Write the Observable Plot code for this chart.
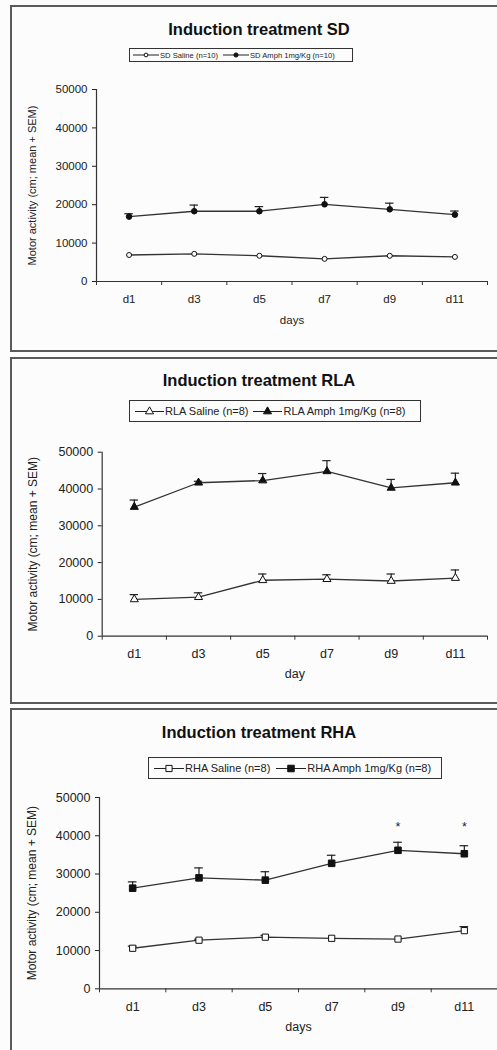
<!DOCTYPE html>
<html>
<head>
<meta charset="utf-8">
<script src="https://cdn.jsdelivr.net/npm/d3@7"></script>
<script src="https://cdn.jsdelivr.net/npm/@observablehq/plot@0.6"></script>
<style>
  html, body { margin: 0; padding: 0; background: #fcfcfc; }
  body { width: 497px; height: 1050px; overflow: hidden; position: relative; font-family: "Liberation Sans", Arial, sans-serif; color: #111; }
  .panel { position: absolute; left: 10px; width: 600px; border: 2px solid #5a5a5a; box-sizing: border-box; }
  .title { position: absolute; left: 0; width: 518px; text-align: center; font-weight: bold; font-size: 16.5px; line-height: 20px; color: #111; white-space: nowrap; }
  .legend { position: absolute; border: 1px solid #333; box-sizing: border-box; display: flex; align-items: center; white-space: nowrap; color: #222; }
  .legend .item { display: inline-flex; align-items: center; }
  .legend svg { display: block; }
  .chart { position: absolute; left: 0; }
  .chart svg { background: transparent; overflow: visible; }
</style>
</head>
<body>
<script>
const days = ["d1", "d3", "d5", "d7", "d9", "d11"];
const yTicks = [0, 10000, 20000, 30000, 40000, 50000];

const sdSalineMean = [6900, 7200, 6700, 5900, 6700, 6400];
const sdSalineSem  = [0, 0, 0, 0, 0, 0];
const sdAmphMean   = [16900, 18300, 18300, 20100, 18800, 17400];
const sdAmphSem    = [750, 1600, 1200, 1800, 1600, 950];

const rlaSalineMean = [10000, 10600, 15200, 15500, 15000, 15800];
const rlaSalineSem  = [1300, 1200, 1700, 1200, 1900, 2200];
const rlaAmphMean   = [35100, 41700, 42300, 44800, 40300, 41700];
const rlaAmphSem    = [1900, 400, 1900, 2900, 2300, 2600];

const rhaSalineMean = [10600, 12700, 13500, 13200, 13000, 15200];
const rhaSalineSem  = [550, 250, 450, 0, 0, 1050];
const rhaAmphMean   = [26300, 29000, 28400, 32800, 36200, 35300];
const rhaAmphSem    = [1650, 2600, 2200, 2100, 2100, 2100];

const rhaSigDays = ["d9", "d11"];
const rhaSigY    = [43200, 43200];

const titles = ["Induction treatment SD", "Induction treatment RLA", "Induction treatment RHA"];
const xLabels = ["days", "day", "days"];
const yLabel = "Motor activity (cm; mean + SEM)";
const legendLabels = [
  ["SD Saline (n=10)", "SD Amph 1mg/Kg (n=10)"],
  ["RLA Saline (n=8)", "RLA Amph 1mg/Kg (n=8)"],
  ["RHA Saline (n=8)", "RHA Amph 1mg/Kg (n=8)"]
];

const OPEN = "#fcfcfc", FILLED = "#111";

const panels = [
  {
    box: {top: 5, height: 347},
    titleTop: 19.3,
    legend: {left: 129, top: 48, width: 224, height: 14, fs: 7.6, line: 26, pad: 3, gap: 5, scale: 0.75},
    svgTop: 0, height: 340, mt: 89, mb: 59, ml: 96, mr: 10, fs: 11.5, labelX: 32,
    series: [
      {mean: sdSalineMean, sem: sdSalineSem, symbol: "circle", r: 2.5, fill: OPEN, label: legendLabels[0][0]},
      {mean: sdAmphMean, sem: sdAmphSem, symbol: "circle", r: 2.8, fill: FILLED, label: legendLabels[0][1]}
    ],
    xLabel: xLabels[0], title: titles[0]
  },
  {
    box: {top: 357, height: 347},
    titleTop: 370.3,
    legend: {left: 129, top: 400, width: 292, height: 22, fs: 11, line: 29, pad: 5, gap: 5, scale: 1},
    svgTop: 357, height: 340, mt: 94.7, mb: 61.3, ml: 101.7, mr: 10, fs: 12.5, labelX: 33,
    series: [
      {mean: rlaSalineMean, sem: rlaSalineSem, symbol: "triangle", r: 3, fill: OPEN, label: legendLabels[1][0]},
      {mean: rlaAmphMean, sem: rlaAmphSem, symbol: "triangle", r: 3, fill: FILLED, label: legendLabels[1][1]}
    ],
    xLabel: xLabels[1], title: titles[1]
  },
  {
    box: {top: 708, height: 400},
    titleTop: 722,
    legend: {left: 148, top: 757, width: 294, height: 22, fs: 11, line: 30, pad: 5, gap: 6, scale: 1},
    svgTop: 708, height: 342, mt: 89, mb: 61.7, ml: 99, mr: 0, fs: 12.5, labelX: 32,
    series: [
      {mean: rhaSalineMean, sem: rhaSalineSem, symbol: "square", r: 3.5, fill: OPEN, label: legendLabels[2][0]},
      {mean: rhaAmphMean, sem: rhaAmphSem, symbol: "square", r: 3.7, fill: FILLED, label: legendLabels[2][1]}
    ],
    xLabel: xLabels[2], title: titles[2],
    sig: rhaSigDays.map((d, i) => ({xi: days.indexOf(d) + 0.5, y: rhaSigY[i]}))
  }
];

function symbolType(name) {
  return {circle: d3.symbolCircle, triangle: d3.symbolTriangle, square: d3.symbolSquare}[name];
}

function legendItem(s, L) {
  const h = Math.ceil(L.fs * 1.3);
  const w = L.line;
  const rr = s.r * L.scale;
  const path = d3.symbol(symbolType(s.symbol), rr * rr * Math.PI)();
  return `<span class="item"><svg width="${w}" height="${h}"><line x1="0" x2="${w}" y1="${h / 2}" y2="${h / 2}" stroke="#222" stroke-width="1"/>` +
    `<path transform="translate(${w / 2},${h / 2})" d="${path}" fill="${s.fill}" stroke="#111" stroke-width="1"/></svg>` +
    `<span style="font-size:${L.fs}px;margin-left:1px">${s.label}</span></span>`;
}

for (const p of panels) {
  const box = document.createElement("div");
  box.className = "panel";
  box.style.top = p.box.top + "px";
  box.style.height = p.box.height + "px";
  document.body.appendChild(box);

  const rowsOf = s => s.mean.map((m, i) => ({day: days[i], xi: i + 0.5, mean: m, sem: s.sem[i], top: m + s.sem[i]}));

  const marks = [
    Plot.axisY({ticks: yTicks, tickSize: 4, tickPadding: 5, tickFormat: d3.format("d"), fontSize: p.fs, label: null, color: "#222"}),
    Plot.axisX({ticks: d3.range(0, days.length + 1), tickSize: 4, tickFormat: () => "", label: null, color: "#333"}),
    Plot.axisX({ticks: days.map((d, i) => i + 0.5), tickSize: 0, tickPadding: 13, tickFormat: v => days[Math.round(v - 0.5)], fontSize: p.fs, label: null, color: "#222"}),
    Plot.ruleY([0], {stroke: "#333", strokeWidth: 1.2}),
    Plot.ruleX([0], {stroke: "#333", strokeWidth: 1.2}),
    Plot.text([yLabel], {text: d => d, frameAnchor: "left", textAnchor: "middle", dx: -(p.ml - p.labelX), rotate: -90, fontSize: p.fs - 0.5, fill: "#222"}),
    Plot.text([p.xLabel], {text: d => d, frameAnchor: "bottom", dy: 42, fontSize: p.fs, fill: "#222"})
  ];

  for (const s of p.series) {
    const rows = rowsOf(s);
    const withErr = rows.filter(r => r.sem > 0);
    marks.push(
      Plot.ruleX(withErr, {x: "xi", y1: "mean", y2: "top", stroke: "#222", strokeWidth: 1.2}),
      Plot.ruleY(withErr, {y: "top", x1: d => d.xi - 0.065, x2: d => d.xi + 0.065, stroke: "#222", strokeWidth: 1.2}),
      Plot.line(rows, {x: "xi", y: "mean", stroke: "#333", strokeWidth: 1.3}),
      Plot.dot(rows, {x: "xi", y: "mean", symbol: s.symbol, r: s.r, fill: s.fill, stroke: "#111", strokeWidth: 1})
    );
  }
  if (p.sig) {
    marks.push(Plot.text(p.sig, {x: "xi", y: "y", text: () => "*", fontSize: p.fs, dy: 3, fill: "#222"}));
  }

  const chart = Plot.plot({
    width: 497,
    height: p.height,
    marginTop: p.mt, marginBottom: p.mb, marginLeft: p.ml, marginRight: p.mr,
    x: {type: "linear", domain: [0, days.length], axis: null},
    y: {domain: [0, 50000], axis: null},
    style: {fontFamily: "'Liberation Sans', Arial, sans-serif", background: "transparent", color: "#222"},
    marks
  });
  const holder = document.createElement("div");
  holder.className = "chart";
  holder.style.top = p.svgTop + "px";
  holder.appendChild(chart);
  document.body.appendChild(holder);

  const t = document.createElement("div");
  t.className = "title";
  t.style.top = p.titleTop + "px";
  t.textContent = p.title;
  document.body.appendChild(t);

  const L = p.legend;
  const lg = document.createElement("div");
  lg.className = "legend";
  Object.assign(lg.style, {left: L.left + "px", top: L.top + "px", width: L.width + "px", height: L.height + "px", paddingLeft: L.pad + "px", gap: L.gap + "px"});
  lg.innerHTML = p.series.map(s => legendItem(s, L)).join("");
  document.body.appendChild(lg);
}
</script>
</body>
</html>
